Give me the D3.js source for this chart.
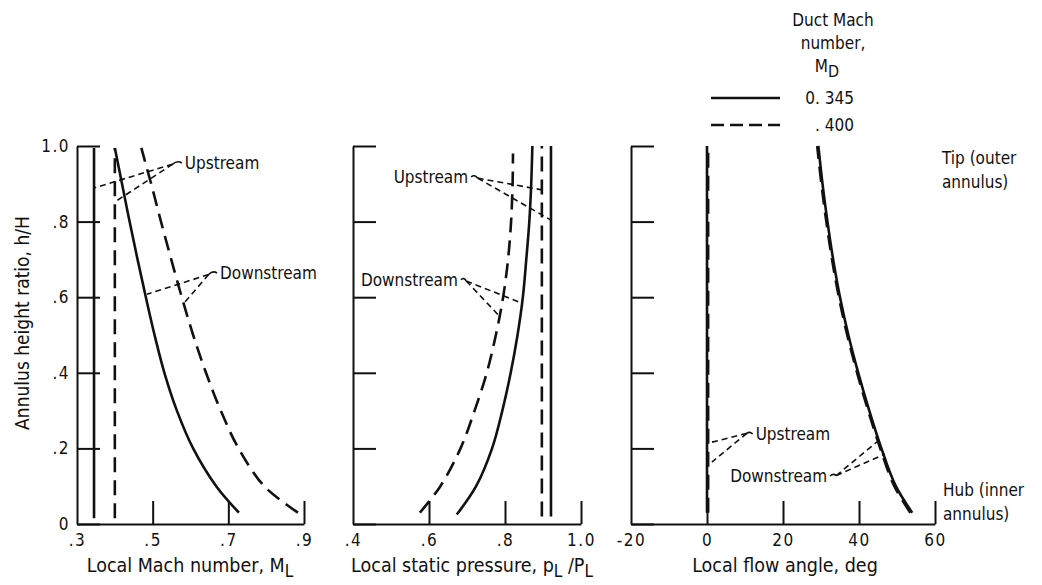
<!DOCTYPE html>
<html>
<head>
<meta charset="utf-8">
<script src="https://cdn.jsdelivr.net/npm/d3@7"></script>
<style>
  body { margin: 0; background: #fff; }
  svg text { font-family: "DejaVu Sans Condensed", "Liberation Sans Narrow", "DejaVu Sans", sans-serif; font-size: 17px; fill: #111; }
</style>
</head>
<body>
<svg id="chart" width="1042" height="585"></svg>
<script>
// ---- data ----
const ductMach = ['0. 345', '. 400']
const hTicks = [0, 0.2, 0.4, 0.6, 0.8, 1.0]
const hTickLabels = ['0', '.2', '.4', '.6', '.8', '1.0']

// panel 1: local Mach number
const machTicks = [0.3, 0.5, 0.7, 0.9]
const machTickLabels = ['.3', '.5', '.7', '.9']
const machUpH = [0.015, 0.995]
const machUp345 = [0.345, 0.345]
const machUp400 = [0.40, 0.40]
const machDownH = [0.995, 0.9, 0.8, 0.7, 0.6, 0.5, 0.4, 0.3, 0.2, 0.1, 0.03]
const machDown345 = [0.40, 0.419, 0.439, 0.46, 0.482, 0.505, 0.531, 0.564, 0.607, 0.668, 0.728]
const machDown400 = [0.47, 0.496, 0.522, 0.549, 0.577, 0.607, 0.641, 0.68, 0.727, 0.795, 0.884]

// panel 2: local static pressure
const pressTicks = [0.4, 0.6, 0.8, 1.0]
const pressTickLabels = ['.4', '.6', '.8', '1.0']
const pressUpH = [0.02, 1.0]
const pressUp345 = [0.921, 0.921]
const pressUp400 = [0.897, 0.897]
const pressDownH345 = [1.0, 0.9, 0.8, 0.7, 0.6, 0.5, 0.4, 0.3, 0.2, 0.1, 0.025]
const pressDown345 = [0.872, 0.869, 0.864, 0.856, 0.847, 0.833, 0.815, 0.793, 0.766, 0.724, 0.673]
const pressDownH400 = [0.98, 0.9, 0.8, 0.7, 0.6, 0.5, 0.4, 0.3, 0.2, 0.1, 0.03]
const pressDown400 = [0.821, 0.82, 0.816, 0.808, 0.795, 0.776, 0.752, 0.72, 0.683, 0.63, 0.576]

// panel 3: local flow angle
const angleTicks = [-20, 0, 20, 40, 60]
const angleTickLabels = ['-20', '0', '20', '40', '60']
const angleUpH = [0.03, 1.0]
const angleUp345 = [0, 0]
const angleUp400 = [0.3, 0.3]
const angleDownH = [1.0, 0.9, 0.8, 0.7, 0.6, 0.5, 0.4, 0.3, 0.2, 0.1, 0.03]
const angleDown345 = [29.3, 30.4, 31.7, 33.2, 35.0, 37.2, 39.8, 42.7, 45.9, 49.7, 54.0]
const angleDown400 = [29.0, 30.1, 31.4, 32.9, 34.7, 36.9, 39.5, 42.4, 45.6, 49.3, 53.5]

const panels = [
  { domain: [0.3, 0.9], range: [77, 304], ticks: machTicks, labels: machTickLabels, yLabels: true,
    title: ['Local Mach number,  M', 'L'], titleX: 190,
    series: [
      { h: machUpH, v: machUp345, dash: false },
      { h: machUpH, v: machUp400, dash: true },
      { h: machDownH, v: machDown345, dash: false },
      { h: machDownH, v: machDown400, dash: true }
    ],
    notes: [
      { text: 'Upstream', at: [0.585, 0.955], anchor: 'start', hub: [0.553, 0.952], to: [[0.345, 0.889], [0.40, 0.852]] },
      { text: 'Downstream', at: [0.678, 0.664], anchor: 'start', hub: [0.648, 0.66], to: [[0.485, 0.608], [0.585, 0.587]] }
    ] },
  { domain: [0.4, 1.0], range: [353, 581], ticks: pressTicks, labels: pressTickLabels, yLabels: false,
    title: ['Local static pressure,  p', 'L', ' /P', 'L'], titleX: 472,
    series: [
      { h: pressUpH, v: pressUp345, dash: false },
      { h: pressUpH, v: pressUp400, dash: true },
      { h: pressDownH345, v: pressDown345, dash: false },
      { h: pressDownH400, v: pressDown400, dash: true }
    ],
    notes: [
      { text: 'Upstream', at: [0.703, 0.918], anchor: 'end', hub: [0.728, 0.915], to: [[0.897, 0.884], [0.921, 0.804]] },
      { text: 'Downstream', at: [0.676, 0.646], anchor: 'end', hub: [0.698, 0.643], to: [[0.837, 0.587], [0.787, 0.548]] }
    ] },
  { domain: [-20, 60], range: [631, 935], ticks: angleTicks, labels: angleTickLabels, yLabels: false,
    title: ['Local flow angle,  deg'], titleX: 785,
    series: [
      { h: angleUpH, v: angleUp345, dash: false },
      { h: angleUpH, v: angleUp400, dash: true },
      { h: angleDownH, v: angleDown345, dash: false },
      { h: angleDownH, v: angleDown400, dash: true }
    ],
    notes: [
      { text: 'Upstream', at: [12.8, 0.238], anchor: 'start', hub: [10.5, 0.24], to: [[0.3, 0.214], [1.3, 0.164]] },
      { text: 'Downstream', at: [31.6, 0.127], anchor: 'end', hub: [34.0, 0.128], to: [[44.7, 0.217], [46.8, 0.185]] }
    ] }
]

const svg = d3.select('#chart')
const y = d3.scaleLinear().domain([0, 1]).range([524, 146])
const dashPattern = '15,8'
const fontStack = '"DejaVu Sans Condensed", "Liberation Sans Narrow", "DejaVu Sans", sans-serif'

panels.forEach(p => {
  const x = d3.scaleLinear().domain(p.domain).range(p.range)
  const g = svg.append('g')

  // left axis, ticks pointing into the plot
  const yAxis = d3.axisLeft(y)
    .tickValues(hTicks)
    .tickSize(-23)
    .tickSizeOuter(0)
    .tickPadding(7)
    .tickFormat((d, i) => p.yLabels ? hTickLabels[i] : '')
  const ya = g.append('g').attr('transform', `translate(${p.range[0]},0)`).call(yAxis)

  // bottom axis, ticks pointing up
  const xAxis = d3.axisBottom(x)
    .tickValues(p.ticks)
    .tickSize(-23)
    .tickSizeOuter(0)
    .tickPadding(10)
    .tickFormat((d, i) => p.labels[i])
  const xa = g.append('g').attr('transform', `translate(0,${y(0)})`).call(xAxis)

  ;[ya, xa].forEach(a => {
    a.select('.domain').attr('stroke', '#111').attr('stroke-width', 2)
    a.selectAll('.tick line').attr('stroke', '#111').attr('stroke-width', 2)
    a.selectAll('.tick text').attr('font-size', 18).attr('fill', '#111')
      .style('font-family', fontStack).style('letter-spacing', '1.5px')
  })
  // the first bottom tick sits on the left axis
  xa.selectAll('.tick').filter((d, i) => i == 0).select('line').remove()

  // axis title with subscripts
  const t = g.append('text').attr('x', p.titleX).attr('y', 572)
    .attr('text-anchor', 'middle').style('font-size', '19.5px')
  p.title.forEach((s, i) => {
    const ts = t.append('tspan').text(s)
    if (i % 2 == 1) ts.attr('dy', 5).style('font-size', '17px')
    else if (i > 0) ts.attr('dy', -5)
  })

  // curves
  const line = d3.line()
    .x(d => x(d[0]))
    .y(d => y(d[1]))
    .curve(d3.curveCatmullRom)
  p.series.forEach(s => {
    const pts = s.v.map((v, i) => [v, s.h[i]]).sort((a, b) => a[1] - b[1])
    g.append('path')
      .attr('d', line(pts))
      .attr('fill', 'none')
      .attr('stroke', '#111')
      .attr('stroke-width', 2.6)
      .attr('stroke-dasharray', s.dash ? dashPattern : null)
  })

  // leader annotations
  p.notes.forEach(n => {
    const [hx, hy] = [x(n.hub[0]), y(n.hub[1])]
    const [lx, ly] = [x(n.at[0]), y(n.at[1])]
    n.to.forEach(tp => {
      g.append('line')
        .attr('x1', hx).attr('y1', hy)
        .attr('x2', x(tp[0])).attr('y2', y(tp[1]))
        .attr('stroke', '#111').attr('stroke-width', 1.6)
        .attr('stroke-dasharray', '6,4')
    })
    const gap = n.anchor == 'start' ? -3 : 3
    g.append('path')
      .attr('d', `M${hx},${hy} Q${(hx + lx + gap) / 2},${ly - 3} ${lx + gap},${ly}`)
      .attr('fill', 'none').attr('stroke', '#111').attr('stroke-width', 1.6)
    g.append('text')
      .attr('x', lx).attr('y', ly).attr('dy', '0.35em')
      .attr('text-anchor', n.anchor)
      .text(n.text)
  })
})

// y axis title
svg.append('text')
  .attr('transform', 'translate(29,323) rotate(-90)')
  .attr('text-anchor', 'middle')
  .style('font-size', '19px')
  .text('Annulus height ratio,  h/H')

// tip / hub notes
const sideNotes = [
  { lines: ['Tip (outer', 'annulus)'], x: 942, y: 164 },
  { lines: ['Hub (inner', 'annulus)'], x: 943, y: 496 }
]
sideNotes.forEach(s => {
  s.lines.forEach((l, i) => {
    svg.append('text').attr('x', s.x).attr('y', s.y + i * 24).text(l)
  })
})

// legend
const leg = svg.append('g').style('font-size', '18.5px')
;['Duct Mach', 'number,'].forEach((l, i) => {
  leg.append('text').attr('x', 833).attr('y', 26 + i * 23).attr('text-anchor', 'middle').text(l)
})
const md = leg.append('text').attr('x', 827).attr('y', 72).attr('text-anchor', 'middle')
md.append('tspan').text('M')
md.append('tspan').attr('dy', 5).style('font-size', '16px').text('D')
ductMach.forEach((m, i) => {
  const ly = 98 + i * 27
  leg.append('line')
    .attr('x1', 711).attr('x2', 780).attr('y1', ly).attr('y2', ly)
    .attr('stroke', '#111').attr('stroke-width', 2.4)
    .attr('stroke-dasharray', i == 1 ? '13,6' : null)
  leg.append('text').attr('x', 854).attr('y', ly).attr('dy', '0.35em')
    .attr('text-anchor', 'end').text(m)
})
</script>
</body>
</html>
